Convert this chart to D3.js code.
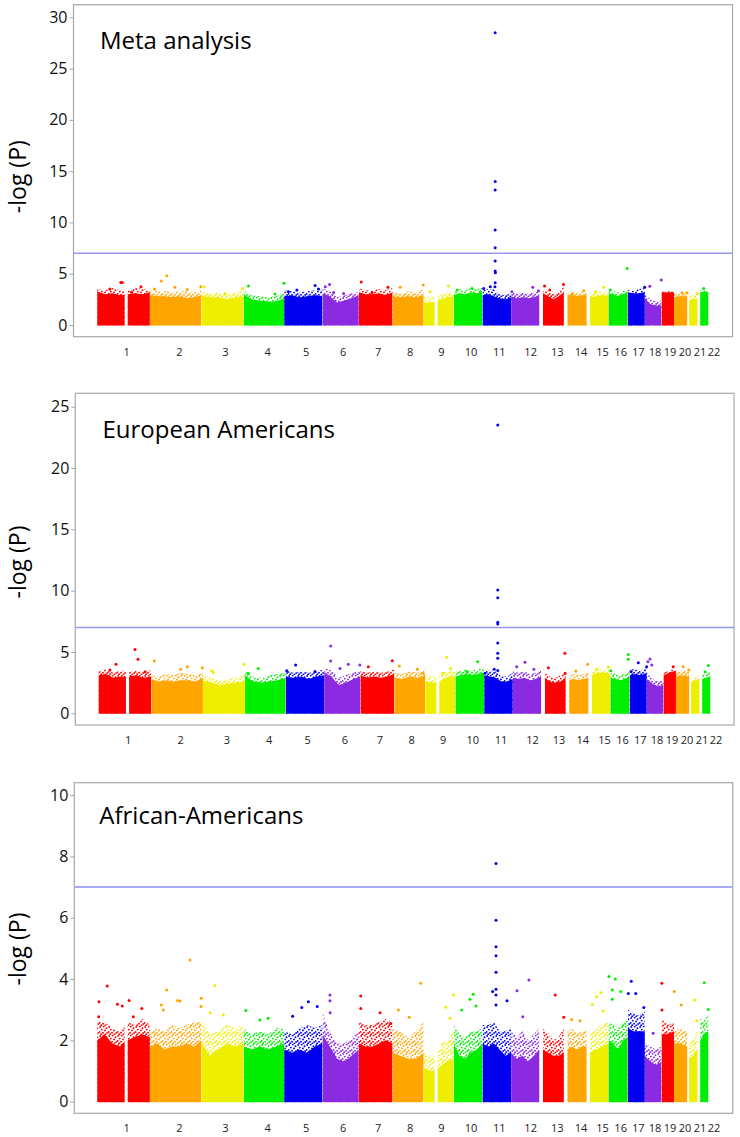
<!DOCTYPE html>
<html><head><meta charset="utf-8">
<script src="https://cdn.jsdelivr.net/npm/d3@7"></script>
<style>body{margin:0;background:#fff} svg{display:block}</style>
</head><body><svg id="chart" width="740" height="1137"></svg>
<script>
// ---------- data ----------
const chromosomes = d3.range(1, 23).map(String);
const chrLengthMb = [249.25,243.2,198.0,191.15,180.9,171.1,159.1,146.4,141.2,135.5,135.0,133.85,115.2,107.35,102.5,90.35,81.2,78.1,59.1,63.0,48.1,51.3];
// genotyped ranges (Mb) inside each chromosome
const chrSpansMb = [
  [[0.7,130],[145,249.2]],[[0.1,243.1]],[[0.1,197.9]],[[0.1,191]],[[0.1,180.8]],[[0.2,170.9]],
  [[0.1,159]],[[0.2,146.2]],[[0.2,51],[66,141]],[[0.1,135.4]],[[0.2,134.9]],[[0.2,133.8]],
  [[16.5,115]],[[16,107.2]],[[15.4,102.4]],[[0.1,90.2]],[[0.1,81]],[[0.1,78]],
  [[0.2,59]],[[0.1,62.9]],[[8,48]],[[12,51.2]]
];
// x-axis label positions (cumulative Mb)
const tickLabelMb = [140,388,605,804,985,1160,1325,1475,1623,1762,1895,2043,2168,2280,2382,2467,2550,2629,2700,2770,2841,2907];
const yTicksMeta = [0,5,10,15,20,25,30];
const yTicksEuro = [0,5,10,15,20,25];
const yTicksAfr  = [0,2,4,6,8,10];
const threshold = 7;

// Meta analysis: dense-band top (solid) and sparse fringe top, per chromosome
const metaCore = [
 [3.3,3.0,3.1,2.9,3.0,3.1,3.0,3.2],[2.9,2.8,2.8,2.7,2.8,2.6,2.7,2.9],[2.9,2.7,2.7,2.5,2.7,2.8],
 [3.0,2.5,2.4,2.3,2.3,2.6],[2.8,2.9,2.7,2.8,2.9,2.8],[3.1,2.8,2.2,2.4,2.6,2.9],
 [3.2,3.0,3.0,3.1,2.9,3.2],[2.8,2.7,2.8,2.7,2.9],[2.2,2.2,2.3,2.5,2.7,2.8],
 [2.9,3.1,3.0,3.2,3.1,3.2],[2.9,3.0,2.8,2.6,2.5,2.7],[2.8,2.6,2.7,2.6,2.7,2.9],
 [3.1,2.8,2.5,2.8,3.2],[2.9,2.9,2.8,2.9,2.9],[2.7,2.8,2.9,2.8],[3.1,3.0,2.8,3.0,3.2],
 [3.2,3.1,3.1,3.2],[2.6,2.0,1.9,1.9],[3.2,3.2,3.2],[2.7,2.8,2.8],[2.4,2.5,2.6],[3.2,3.3,3.2]
];
const metaFringe = [
 [3.5,3.4,3.6,3.4,3.3,3.6,3.5,3.4],[3.4,3.3,3.4,3.2,3.3,3.3,3.2,3.5],[3.3,3.1,3.2,3.0,3.2,3.4],
 [3.4,2.9,2.8,2.7,2.8,3.1],[3.4,3.3,3.2,3.3,3.4,3.5],[3.6,3.3,2.7,2.9,3.1,3.2],
 [3.6,3.4,3.4,3.5,3.4,3.6],[3.2,3.1,3.3,3.2,3.5],[2.7,2.7,2.7,3.0,3.2,3.3],
 [3.4,3.5,3.4,3.6,3.5,3.6],[3.4,3.5,3.5,3.0,2.9,3.1],[3.2,3.1,3.2,3.1,3.2,3.4],
 [3.5,3.3,3.0,3.3,3.7],[3.2,3.3,3.2,3.2,3.3],[3.1,3.3,3.3,3.2],[3.4,3.3,3.2,3.4,3.5],
 [3.4,3.4,3.5,3.6],[3.0,2.5,2.3,2.4],[3.3,3.3,3.3],[3.0,3.1,3.1],[2.8,2.9,3.0],[3.4,3.5,3.4]
];
// individual points above the band: [chromosome, position Mb, -log P]
const metaPeaks = [
 [1,112,4.15],[1,119,4.15],[1,207,3.73],[1,61,3.5],[1,163,3.2],
 [2,79,4.81],[2,54,4.29],[2,118,3.67],[2,176,3.47],[2,21,3.5],[2,240,3.73],
 [3,12,3.73],[3,194,3.57],[3,111,3.08],
 [4,23,3.8],[4,190,4.06],[4,148,3.02],
 [5,20,3.25],[5,146,3.84],[5,162,3.5],[5,60,3.41],
 [6,33,3.96],[6,13,3.73],[6,52,3.18],[6,99,3.08],
 [7,11,4.19],[7,137,3.67],[7,62,3.15],
 [8,36,3.67],[8,144,3.9],
 [9,117,3.8],[9,30,3.25],
 [10,16,3.41],[10,86,3.57],[10,125,3.25],
 [11,60,28.5],[11,60,14.0],[11,60,13.16],[11,60,9.26],[11,60,7.54],[11,60,6.24],[11,60,5.26],[11,61,5.1],[11,60,4.12],[11,59,3.73],[11,6,3.57],[11,37,3.73],
 [12,102,3.67],[12,4,3.25],[12,129,3.35],
 [13,113,3.94],[13,24,3.8],[13,48,3.41],
 [14,93,3.35],[14,38,3.0],
 [15,80,3.67],[15,41,3.25],
 [16,88,5.5],[16,9,3.41],
 [17,80,3.67],[18,23,3.78],[18,77,4.39],
 [20,61,3.15],[20,38,3.15],[21,46,3.08],[22,29,3.57]
];

// European Americans
const euroCore = [
 [3.1,3.2,2.9,3.0,3.0,3.1,2.9,3.0],[2.8,2.6,2.7,2.6,2.7,2.7,2.6,2.9],[2.7,2.5,2.3,2.4,2.5,2.6],
 [3.1,2.6,2.5,2.6,2.7,2.9],[3.0,2.9,3.0,2.8,3.0,3.1],[3.3,3.0,2.3,2.5,2.8,3.0],
 [3.1,2.9,3.0,2.9,3.0,3.2],[2.9,2.8,3.0,2.9,3.1],[2.6,2.5,2.5,2.8,3.0,3.0],
 [3.0,3.1,3.2,3.1,3.2,3.3],[3.1,3.0,2.9,2.6,2.6,2.8],[2.9,2.8,2.9,2.7,2.8,3.0],
 [2.9,2.6,2.5,2.6,2.9],[2.7,2.8,2.7,2.8,2.9],[3.1,3.3,3.3,3.2],[2.9,2.8,2.7,2.8,3.0],
 [3.1,3.2,3.1,3.3],[2.8,2.4,2.2,2.3],[3.1,3.3,3.5],[3.0,3.1,3.0],[2.5,2.7,2.8],[2.8,2.9,3.0]
];
const euroFringe = [
 [3.4,3.6,3.3,3.5,3.4,3.5,3.4,3.5],[3.1,3.0,3.2,3.1,3.3,3.2,3.1,3.3],[3.1,2.9,2.7,2.8,3.0,3.1],
 [3.4,3.0,2.9,3.1,3.2,3.3],[3.5,3.3,3.4,3.3,3.4,3.6],[3.7,3.5,2.9,3.1,3.3,3.5],
 [3.5,3.3,3.4,3.3,3.4,3.6],[3.3,3.2,3.4,3.3,3.6],[3.1,3.0,3.0,3.3,3.5,3.5],
 [3.4,3.5,3.6,3.5,3.6,3.7],[3.5,3.5,3.4,3.0,3.0,3.3],[3.4,3.3,3.4,3.2,3.3,3.5],
 [3.3,3.0,2.9,3.1,3.4],[3.1,3.2,3.1,3.2,3.4],[3.5,3.6,3.6,3.5],[3.3,3.2,3.1,3.2,3.4],
 [3.6,3.6,3.5,3.7],[3.3,2.8,2.6,2.7],[3.3,3.5,3.7],[3.4,3.5,3.4],[2.8,3.0,3.1],[3.1,3.2,3.4]
];
const euroPeaks = [
 [1,83,4.0],[1,173,5.2],[1,187,4.4],[1,220,3.39],[1,55,3.53],
 [2,14,4.27],[2,138,3.59],[2,170,3.8],[2,240,3.72],
 [3,193,4.0],[3,41,3.47],[3,49,3.34],
 [4,62,3.66],[4,15,3.26],
 [5,47,3.94],[5,138,3.4],[5,5,3.47],
 [6,31,5.49],[6,31,4.27],[6,114,4.0],[6,168,3.94],[6,75,3.66],
 [7,37,3.8],[7,150,4.29],
 [8,24,3.86],[8,108,3.59],[8,134,3.26],
 [9,100,4.57],[9,119,3.66],[9,82,3.26],
 [10,105,4.21],[10,53,3.4],
 [11,64,23.5],[11,64,10.06],[11,64,9.43],[11,64,7.42],[11,64,7.28],[11,64,5.73],[11,64,4.89],[11,64,4.48],[11,64,3.48],[11,47,3.6],[11,4,3.26],
 [12,57,4.16],[12,18,3.8],[12,99,3.59],
 [13,111,4.89],[13,33,3.72],[13,112,3.26],
 [14,103,3.99],[14,47,3.45],
 [15,38,3.59],[15,93,3.75],
 [16,84,4.8],[16,84,4.4],[16,2,3.47],
 [17,41,4.13],[17,80,3.8],[17,7,3.4],
 [18,15,4.43],[18,23,3.94],[18,5,4.2],
 [19,46,3.8],[20,34,3.8],[20,60,3.53],[22,41,3.89],[22,26,3.39]
];

// African-Americans
const afrCore = [
 [2.0,2.2,1.9,1.8,2.0,2.1,2.2,2.1],[1.8,1.9,1.7,1.8,1.8,1.9,1.8,2.0],[1.9,1.5,1.7,1.9,1.8,1.9],
 [1.8,1.7,1.8,1.7,1.8,1.9],[1.7,1.6,1.7,1.6,1.8,1.9],[2.2,1.8,1.4,1.3,1.5,1.7],
 [1.9,1.8,1.8,1.9,2.0,1.9],[1.6,1.5,1.4,1.4,1.6],[1.1,1.0,1.0,1.2,1.3,1.4],
 [1.9,1.5,1.4,1.6,1.7,1.9],[1.9,1.8,1.9,1.7,1.5,1.6],[1.6,1.4,1.5,1.3,1.5,1.7],
 [1.7,1.6,1.5,1.5,1.6],[1.7,1.8,1.7,1.8,1.8],[1.6,1.7,1.8,1.9],[2.0,1.9,1.7,2.0,2.1],
 [2.4,2.3,2.3,2.3],[1.5,1.3,1.2,1.3],[2.2,2.2,2.3],[1.9,1.9,1.8],[1.4,1.5,1.7],[2.0,2.2,2.3]
];
const afrFringe = [
 [2.6,2.6,2.4,2.3,2.6,2.5,2.7,2.5],[2.3,2.4,2.3,2.5,2.4,2.5,2.6,2.6],[2.6,2.2,2.3,2.5,2.4,2.5],
 [2.4,2.2,2.3,2.2,2.4,2.4],[2.3,2.2,2.4,2.5,2.4,2.5],[2.9,2.3,1.9,1.9,2.1,2.3],
 [2.6,2.5,2.5,2.6,2.7,2.6],[2.4,2.3,2.1,2.3,2.6],[1.6,1.5,1.5,1.9,2.0,2.3],
 [2.5,2.2,2.1,2.3,2.3,2.4],[2.5,2.5,2.6,2.3,2.3,2.4],[2.3,2.1,2.3,2.0,2.2,2.4],
 [2.4,2.2,2.0,2.1,2.4],[2.3,2.4,2.2,2.3,2.4],[2.2,2.4,2.5,2.6],[2.6,2.5,2.4,2.6,2.7],
 [3.0,2.9,2.8,3.0],[1.9,1.8,1.7,1.8],[2.7,2.5,2.6],[2.3,2.4,2.3],[1.9,2.0,2.4],[2.7,2.7,2.8]
];
const afrPeaks = [
 [1,9,3.26],[1,48,3.77],[1,8,2.77],[1,96,3.18],[1,119,3.12],[1,151,3.3],[1,211,3.04],[1,171,2.77],
 [2,79,3.64],[2,131,3.3],[2,142,3.28],[2,189,4.62],[2,242,3.37],[2,241,3.1],[2,54,3.15],[2,63,2.99],
 [3,63,3.79],[3,102,2.83],[3,40,2.9],
 [4,11,2.97],[4,77,2.66],[4,116,2.72],
 [5,83,3.07],[5,114,3.26],[5,156,3.1],[5,40,2.79],
 [6,35,3.48],[6,35,3.29],[6,36,2.9],
 [7,9,3.45],[7,9,3.04],[7,100,2.9],[7,150,2.55],
 [8,27,2.99],[8,132,3.86],[8,78,2.75],
 [9,140,3.48],[9,104,3.08],[9,124,2.72],
 [10,92,3.5],[10,77,3.34],[10,105,3.12],[10,38,2.99],
 [11,64,7.77],[11,64,5.92],[11,64,5.05],[11,64,4.76],[11,64,4.22],[11,64,3.67],[11,64,3.48],[11,64,3.15],[11,48,3.59],[11,116,3.29],
 [12,28,3.62],[12,84,3.97],[12,55,2.77],
 [13,74,3.48],[13,114,2.75],
 [14,36,2.68],[14,76,2.64],
 [15,25,3.17],[15,47,3.42],[15,67,3.55],[15,78,2.96],
 [16,2,4.08],[16,32,4.0],[16,18,3.64],[16,18,3.34],[16,58,3.59],
 [17,17,3.93],[17,3,3.53],[17,38,3.53],[17,76,3.07],
 [18,39,2.23],
 [19,2,3.86],[19,2,2.99],
 [20,1,3.59],[20,34,3.15],
 [21,34,3.32],[21,44,2.64],
 [22,31,3.88],[22,50,3.01]
];

// ---------- drawing ----------
const palette = ["#ff0000","#ffa500","#eeee00","#00ee00","#0000ee","#8a2be2"];
const colorOf = i => palette[i % 6];
const cumStart = [];
let acc = 0;
chrLengthMb.forEach(l => { cumStart.push(acc); acc += l; });
const genomeLen = acc;

const panels = [
  {title:"Meta analysis", core:metaCore, fringe:metaFringe, peaks:metaPeaks, ticks:yTicksMeta,
   frame:{l:73.5,r:732.5,t:4.7,b:336.7}, y0:325, yTopPx:17.3, xr:[97,708.5], tx:100, ty:48.5, ly:176.7, xly:352,
   thr:{c:"#9898f2", w:1.4}},
  {title:"European Americans", core:euroCore, fringe:euroFringe, peaks:euroPeaks, ticks:yTicksEuro,
   frame:{l:75.3,r:734,t:393.3,b:725}, y0:713.3, yTopPx:406.7, xr:[98.3,710.5], tx:102.5, ty:438.3, ly:562, xly:740,
   thr:{c:"#9898f2", w:1.4}},
  {title:"African-Americans", core:afrCore, fringe:afrFringe, peaks:afrPeaks, ticks:yTicksAfr,
   frame:{l:74.3,r:732.7,t:782.7,b:1113.3}, y0:1101.7, yTopPx:795, xr:[97,708.5], tx:99.3, ty:824.3, ly:949, xly:1128,
   thr:{c:"#aaaaf4", w:2}}
];

const svg = d3.select("#chart");
const defs = svg.append("defs");
// speckle texture for the sparse upper fringe of each band
const speckle = [[1.2,1.0],[4.7,0.6],[7.5,2.3],[2.8,3.6],[6.0,4.4],[0.6,5.9],[4.0,6.8],[8.2,7.0],[2.2,8.3],[6.4,8.5]];
palette.forEach((c, k) => {
  const p = defs.append("pattern").attr("id", "fr" + k).attr("patternUnits", "userSpaceOnUse")
    .attr("width", 9).attr("height", 9);
  speckle.forEach(([sx, sy]) => p.append("circle").attr("cx", sx).attr("cy", sy).attr("r", 0.95).attr("fill", c));
});

const FONT = "'Open Sans', 'DejaVu Sans', sans-serif";

panels.forEach((P, pi) => {
  const g = svg.append("g");
  const ymax = P.ticks[P.ticks.length - 1];
  const y = d3.scaleLinear().domain([0, ymax]).range([P.y0, P.yTopPx]);
  const x = d3.scaleLinear().domain([0, genomeLen]).range(P.xr);

  // frame
  g.append("rect").attr("x", P.frame.l).attr("y", P.frame.t)
    .attr("width", P.frame.r - P.frame.l).attr("height", P.frame.b - P.frame.t)
    .attr("fill", "none").attr("stroke", "#a8a8a8").attr("stroke-width", 1.2);

  // y axis
  const ax = g.append("g").attr("transform", `translate(${P.frame.l},0)`)
    .call(d3.axisLeft(y).tickValues(P.ticks).tickSize(4).tickPadding(2).tickFormat(d3.format("d")));
  ax.select(".domain").remove();
  ax.selectAll(".tick line").attr("stroke", "#a8a8a8");
  ax.selectAll(".tick text").attr("font-family", FONT).attr("font-size", 16).attr("fill", "#111");

  // chromosomes
  chromosomes.forEach((name, ci) => {
    const spans = chrSpansMb[ci];
    const s0 = spans[0][0], s1 = spans[spans.length - 1][1];
    const clipId = `clip${pi}_${ci}`;
    const cp = defs.append("clipPath").attr("id", clipId);
    spans.forEach(([a, b]) => cp.append("rect")
      .attr("x", x(cumStart[ci] + a)).attr("width", x(cumStart[ci] + b) - x(cumStart[ci] + a))
      .attr("y", P.frame.t).attr("height", P.y0 - P.frame.t + 1));
    const mk = arr => arr.map((v, k) => [s0 + (s1 - s0) * k / (arr.length - 1), v]);
    const area = d3.area().x(d => x(cumStart[ci] + d[0])).y0(y(0) + 0.5).y1(d => y(d[1]));
    const cg = g.append("g").attr("clip-path", `url(#${clipId})`);
    cg.append("path").attr("d", area(mk(P.fringe[ci]))).attr("fill", `url(#fr${ci % 6})`);
    cg.append("path").attr("d", area(mk(P.core[ci]))).attr("fill", colorOf(ci));
  });

  // threshold line
  g.append("line").attr("x1", P.frame.l).attr("x2", P.frame.r)
    .attr("y1", y(threshold)).attr("y2", y(threshold))
    .attr("stroke", P.thr.c).attr("stroke-width", P.thr.w);

  // individual points
  g.selectAll("circle.pk").data(P.peaks).enter().append("circle")
    .attr("class", "pk")
    .attr("cx", d => x(cumStart[d[0] - 1] + d[1]))
    .attr("cy", d => y(d[2]))
    .attr("r", 1.5)
    .attr("fill", d => colorOf(d[0] - 1));

  // chromosome labels
  g.selectAll("text.xl").data(chromosomes).enter().append("text")
    .attr("class", "xl")
    .attr("x", (d, i) => x(tickLabelMb[i]))
    .attr("y", P.xly)
    .attr("dy", "0.35em")
    .attr("text-anchor", "middle")
    .attr("font-family", FONT).attr("font-size", 11).attr("fill", "#222")
    .text(d => d);

  // title
  g.append("text").attr("x", P.tx).attr("y", P.ty)
    .attr("font-family", FONT).attr("font-size", 24).attr("fill", "#000")
    .text(P.title);

  // y label
  g.append("text").attr("transform", `translate(25.5,${P.ly}) rotate(-90)`)
    .attr("text-anchor", "middle")
    .attr("font-family", FONT).attr("font-size", 23).attr("fill", "#000")
    .text("-log (P)");
});
</script></body></html>
